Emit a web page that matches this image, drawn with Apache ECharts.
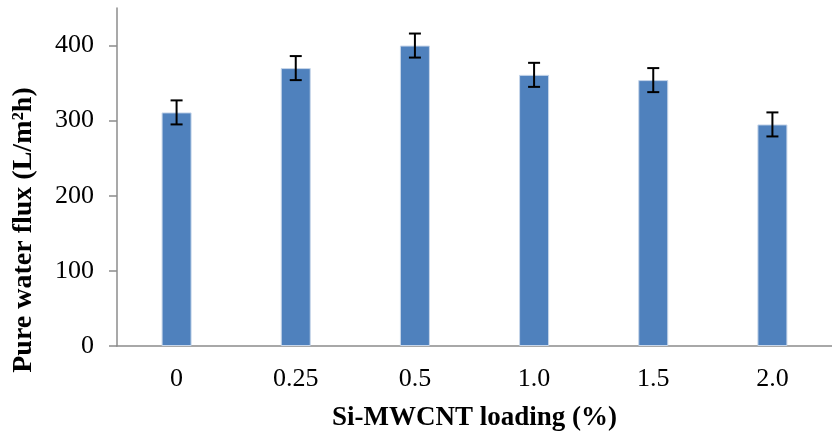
<!DOCTYPE html>
<html><head><meta charset="utf-8">
<script src="https://cdn.jsdelivr.net/npm/echarts@6/dist/echarts.min.js"></script>
<style>html,body{margin:0;padding:0;background:#fff}#c{width:832px;height:437px}</style>
</head><body><div id="c"></div>
<script>
const categories = ['0', '0.25', '0.5', '1.0', '1.5', '2.0'];
const flux = [311, 370, 400, 361, 354, 295];
const errors = [16, 16, 16, 16, 16, 16];
const yTicks = [0, 100, 200, 300, 400];

const chart = echarts.init(document.getElementById('c'));
const font = '"Liberation Serif", "Times New Roman", serif';
chart.setOption({
  animation: false,
  grid: { left: 117, width: 720, top: 8, bottom: 87, containLabel: false },
  xAxis: {
    type: 'category', data: categories,
    name: 'Si-MWCNT loading (%)', nameLocation: 'middle', nameGap: 59,
    nameTextStyle: { fontFamily: font, fontWeight: 'bold', fontSize: 27, color: '#000' },
    axisLine: { lineStyle: { color: '#8c8c8c', width: 1.5 } },
    axisTick: { show: false },
    axisLabel: { fontFamily: font, fontSize: 26, color: '#000', margin: 20 }
  },
  yAxis: {
    type: 'value', min: 0, max: 450, interval: 50,
    name: 'Pure water flux (L/m²h)', nameLocation: 'middle', nameGap: 79,
    nameTextStyle: { fontFamily: font, fontWeight: 'bold', fontSize: 28, color: '#000', padding: [0, 106, 0, 0] },
    splitLine: { show: false },
    axisLine: { show: true, lineStyle: { color: '#8c8c8c', width: 1.5 } },
    axisTick: { show: true, length: 8, customValues: yTicks, lineStyle: { color: '#8c8c8c', width: 1.5 } },
    axisLabel: { fontFamily: font, fontSize: 26, color: '#000', margin: 23, customValues: yTicks }
  },
  series: [
    {
      type: 'bar', data: flux, barWidth: 30,
      itemStyle: { color: '#4F81BD', borderColor: '#c7d6ea', borderWidth: 1 }
    },
    {
      type: 'custom',
      data: flux.map((v, i) => [i, v - errors[i], v + errors[i]]),
      renderItem: function (params, api) {
        const lo = api.coord([api.value(0), api.value(1)]);
        const hi = api.coord([api.value(0), api.value(2)]);
        const x = lo[0], hw = 6;
        const st = { stroke: '#000', lineWidth: 2 };
        return { type: 'group', children: [
          { type: 'line', shape: { x1: x, y1: lo[1], x2: x, y2: hi[1] }, style: st },
          { type: 'line', shape: { x1: x - hw, y1: lo[1], x2: x + hw, y2: lo[1] }, style: st },
          { type: 'line', shape: { x1: x - hw, y1: hi[1], x2: x + hw, y2: hi[1] }, style: st }
        ]};
      },
      z: 10
    }
  ]
});
</script></body></html>
